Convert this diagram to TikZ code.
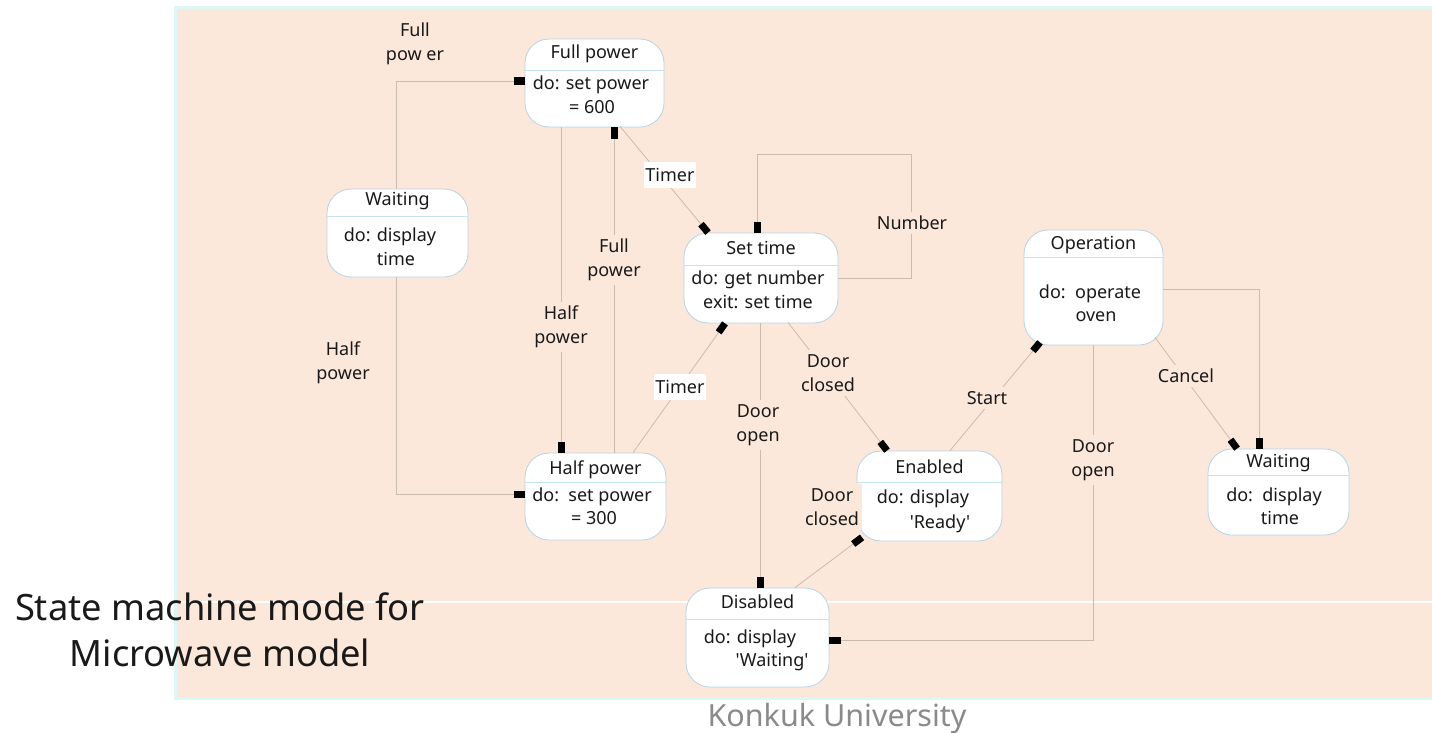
\documentclass[tikz,border=0pt]{standalone}
\usepackage{fontspec}
\setmainfont{Noto Sans}[Ligatures=TeXOff]
\usetikzlibrary{arrows.meta}
\definecolor{peach}{HTML}{FCE8DA}
\definecolor{framec}{HTML}{DDF7F7}
\definecolor{linec}{HTML}{C9BBAE}
\definecolor{stateedge}{HTML}{B5D3E6}
\definecolor{sepc}{HTML}{C5E2F2}
\definecolor{footgray}{HTML}{8A8A8A}

\begin{document}
\begin{tikzpicture}[x=1pt,y=-1pt,
  statebox/.style={draw=stateedge, line width=0.8pt, fill=white, rounded corners=24pt, inner sep=0pt},
  txt/.style={font=\fontsize{18}{24.5}\selectfont, inner sep=0pt, text=black!90, anchor=base},
  lbl/.style={font=\fontsize{18}{24.5}\selectfont, text=black!90, align=center, fill=peach, inner xsep=3pt, inner ysep=4pt},
  wlbl/.style={font=\fontsize{18}{24.5}\selectfont, text=black!90, align=center, fill=white, inner xsep=1pt, inner ysep=6pt},
  conn/.style={draw=linec, line width=0.8pt, -{Rectangle[black,length=11pt,width=7pt]}},
  divider/.style={draw=sepc, line width=0.8pt}
]
\useasboundingbox (0,0) rectangle (1432,733);

% slide panel
\fill[peach] (177,9) rectangle (1440,697);
\draw[framec, line width=3pt] (175.5,7.5) rectangle (1445,698.5);
\draw[white, line width=1.2pt] (177,602) -- (1440,602);

% ---------- states ----------
% Full power
\node[statebox, minimum width=139pt, minimum height=88pt] (fp) at (594.5,83) {};
\draw[divider] (fp.west |- 0,70) -- (fp.east |- 0,70);
\node[txt] (fp-t) at (594.5,59) {Full power};
\node[txt] (fp-1) at (591,90) {do: set power};
\node[txt] (fp-2) at (592,114) {= 600};

% Waiting (left)
\node[statebox, minimum width=141pt, minimum height=88pt] (wl) at (397.5,233) {};
\draw[divider] (wl.west |- 0,216) -- (wl.east |- 0,216);
\node[txt] (wl-t) at (397.5,205) {Waiting};
\node[txt] (wl-1) at (390,241) {do: display};
\node[txt] (wl-2) at (396,265) {time};

% Half power
\node[statebox, minimum width=141pt, minimum height=87pt] (hp) at (595.5,496.5) {};
\draw[divider] (hp.west |- 0,482) -- (hp.east |- 0,482);
\node[txt] (hp-t) at (595.5,474) {Half power};
\node[txt] (hp-1) at (592,501) {do:\ \ set power};
\node[txt] (hp-2) at (594,524) {= 300};

% Set time
\node[statebox, minimum width=154pt, minimum height=90pt] (st) at (761,278) {};
\draw[divider] (st.west |- 0,265) -- (st.east |- 0,265);
\node[txt] (st-t) at (761,254) {Set time};
\node[txt] (st-1) at (758,284) {do: get number};
\node[txt] (st-2) at (758,308) {exit: set time};

% Operation
\node[statebox, minimum width=139pt, minimum height=115pt] (op) at (1093.5,287.5) {};
\draw[divider] (op.west |- 0,257) -- (op.east |- 0,257);
\node[txt] (op-t) at (1093.5,249) {Operation};
\node[txt] (op-1) at (1090,298) {do:\ \ operate};
\node[txt] (op-2) at (1096,321) {oven};

% Enabled
\node[statebox, minimum width=145pt, minimum height=90pt] (en) at (929.5,496) {};
\draw[divider] (en.west |- 0,482) -- (en.east |- 0,482);
\node[txt] (en-t) at (929.5,473) {Enabled};
\node[txt] (en-1) at (923,503) {do: display};
\node[txt] (en-2) at (940,528) {'Ready'};

% Waiting (right)
\node[statebox, minimum width=141pt, minimum height=86pt] (wr) at (1278.5,492) {};
\draw[divider] (wr.west |- 0,475) -- (wr.east |- 0,475);
\node[txt] (wr-t) at (1278.5,467) {Waiting};
\node[txt] (wr-1) at (1274,501) {do:\ \ display};
\node[txt] (wr-2) at (1280,524) {time};

% Disabled
\node[statebox, minimum width=143pt, minimum height=99pt] (ds) at (757.5,637.5) {};
\draw[divider] (ds.west |- 0,619) -- (ds.east |- 0,619);
\node[txt] (ds-t) at (757.5,608) {Disabled};
\node[txt] (ds-1) at (750,643) {do: display};
\node[txt] (ds-2) at (772,666) {'Waiting'};

% ---------- transitions ----------
\draw[conn] ([xshift=-1.5pt]wl.north) |- ([yshift=2pt]fp.west);
\draw[conn] ([xshift=-1.5pt]wl.south) |- ([yshift=2.5pt]hp.west);
\draw[conn] ([xshift=-33.5pt]fp.south) -- ([xshift=-34.5pt]hp.north);
\draw[conn] ([xshift=18.5pt]hp.north) -- ([xshift=19.5pt]fp.south);
\draw[conn] ([xshift=25.5pt,yshift=1pt]fp.south) -- ([xshift=-53pt]st.north);
\draw[conn] ([xshift=37.5pt]hp.north) -- ([xshift=-36pt]st.south);
\draw[conn] (st.east) -- ++(73,0) -- ++(0,-124) -| ([xshift=-4pt]st.north);
\draw[conn] ([xshift=-1pt]st.south) -- ([xshift=2.5pt]ds.north);
\draw[conn] ([xshift=27pt,yshift=1pt]st.south) -- ([xshift=-42.5pt]en.north);
\draw[conn] ([xshift=37.5pt]ds.north) -- ([xshift=-67.5pt,yshift=4pt]en.south);
\draw[conn] ([xshift=20.5pt]en.north) -- ([xshift=-53.5pt,yshift=3pt]op.south);
\draw[conn] ([xshift=61.5pt,yshift=8pt]op.south) -- ([xshift=-41.5pt]wr.north);
\draw[conn] ([yshift=-1.5pt]op.east) -| ([xshift=-19.5pt]wr.north);
\draw[conn] ([xshift=-0.5pt]op.south) |- ([yshift=-2.5pt]ds.east);

% ---------- transition labels ----------
\node[lbl] (l-fp1) at (415,44) {Full\\pow er};
\node[lbl] (l-hp1) at (343,363) {Half\\power};
\node[lbl] (l-hp2) at (561,327) {Half\\power};
\node[lbl] (l-fp2) at (614,260) {Full\\power};
\node[wlbl] (l-tm1) at (670,175) {Timer};
\node[wlbl] (l-tm2) at (680,387) {Timer};
\node[lbl] (l-num) at (912,223) {Number};
\node[lbl] (l-do1) at (758,425) {Door\\open};
\node[lbl] (l-dc1) at (828,373) {Door\\closed};
\node[lbl] (l-dc2) at (832,507) {Door\\closed};
\node[lbl] (l-st) at (987,398) {Start};
\node[lbl] (l-cn) at (1186,376) {Cancel};
\node[lbl] (l-do2) at (1093,460) {Door\\open};

% ---------- slide texts ----------
\node[font=\fontsize{36.3}{46}\selectfont, align=center, text=black!90] (title) at (220,630) {State machine mode for\\Microwave model};
\node[font=\fontsize{30.5}{32}\selectfont, text=footgray] (foot) at (837,719) {Konkuk University};
\end{tikzpicture}
\end{document}
